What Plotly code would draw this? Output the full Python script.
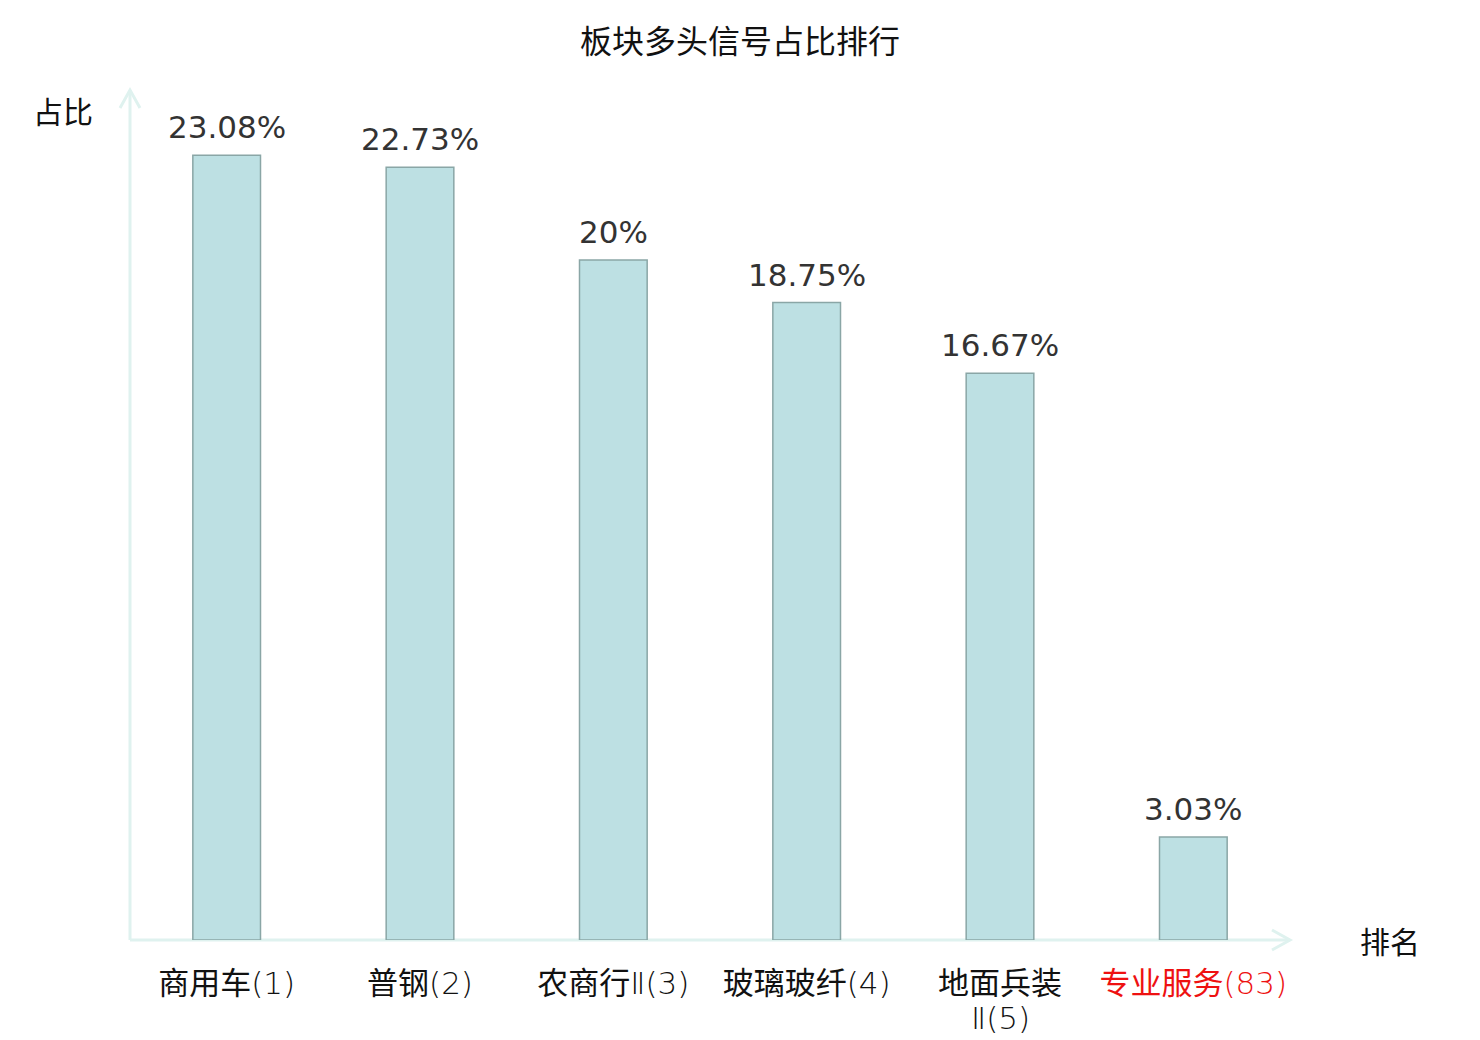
import plotly.graph_objects as go

categories = ["商用车", "普钢", "农商行", "玻璃玻纤", "地面兵装", "专业服务"]
suffixes = ["(1)", "(2)", "Ⅱ(3)", "(4)", "", "(83)"]
wrapped_suffix = {4: "Ⅱ(5)"}
values = [23.08, 22.73, 20.0, 18.75, 16.67, 3.03]
value_labels = ["23.08%", "22.73%", "20%", "18.75%", "16.67%", "3.03%"]
label_colors = ["#111111", "#111111", "#111111", "#111111", "#111111", "#ee1111"]
title_text = "板块多头信号占比排行"
y_name = "占比"
x_name = "排名"

light = "font-family:'DejaVu Sans';font-weight:200"
ticktext = [f'<span style="color:{c}">{t}<span style="{light}">{s}</span></span>'
            for t, s, c in zip(categories, suffixes, label_colors)]
xs = list(range(len(categories)))

axis_color = "#dff2ef"
cjk = "Noto Sans CJK SC"

W, H = 1480, 1040
ML, MR, MT, MB = 122, 198, 82, 108

fig = go.Figure()
fig.add_trace(go.Bar(
    x=xs, y=values, width=0.35,
    marker=dict(color="#bde0e3", line=dict(color="#8aa6a6", width=1.5)),
    hoverinfo="skip",
))

for xi, v, t in zip(xs, values, value_labels):
    fig.add_annotation(x=xi, y=v, text=t, showarrow=False, xanchor="center", yanchor="bottom",
                       yshift=8, font=dict(family="DejaVu Sans", size=31, color="#333333"))

for xi, s in wrapped_suffix.items():
    fig.add_annotation(x=xi, xref="x", y=0, yref="paper", text=s, showarrow=False,
                       xanchor="center", yanchor="middle", yshift=-78, height=30,
                       font=dict(family="DejaVu Sans", size=31, color=label_colors[xi], weight=200))

fig.update_layout(
    width=W, height=H,
    margin=dict(l=ML, r=MR, t=MT, b=MB, autoexpand=False),
    paper_bgcolor="white", plot_bgcolor="white",
    showlegend=False,
    title=dict(text=title_text, x=(740 - 8) / W, xanchor="center", y=1 - 34 / H, yanchor="middle",
               font=dict(family=cjk, size=32, color="#111111")),
    xaxis=dict(
        tickmode="array", tickvals=xs, ticktext=ticktext,
        range=[-0.5, len(categories) - 0.5],
        showgrid=False, zeroline=False, showline=False,
        ticks="", ticklabelstandoff=22, automargin=False,
        tickfont=dict(family=cjk, size=31, color="#111111"),
    ),
    yaxis=dict(
        range=[0, 25], showgrid=False, zeroline=False, showline=False,
        showticklabels=False, ticks="", automargin=False,
    ),
)

lw = 3
fig.add_shape(type="line", xref="paper", yref="paper", x0=0, y0=0, x1=1, y1=0,
              line=dict(color=axis_color, width=lw), layer="below")
fig.add_shape(type="line", xref="paper", yref="paper", x0=0, y0=0, x1=0, y1=1,
              line=dict(color=axis_color, width=lw), layer="below")
pw = W - ML - MR
ph = H - MT - MB
ax_len = 18
hw = 10
fig.add_shape(type="path", xref="paper", yref="paper",
              path=f"M {1 - ax_len / pw},{hw / ph} L 1,0 L {1 - ax_len / pw},{-hw / ph}",
              line=dict(color=axis_color, width=lw))
fig.add_shape(type="path", xref="paper", yref="paper",
              path=f"M {-hw / pw},{1 - ax_len / ph} L 0,1 L {hw / pw},{1 - ax_len / ph}",
              line=dict(color=axis_color, width=lw))

fig.add_annotation(text=y_name, xref="paper", yref="paper", x=-67 / pw, y=1 - 20 / ph,
                   xanchor="center", yanchor="middle", showarrow=False,
                   font=dict(family=cjk, size=30, color="#111111"))
fig.add_annotation(text=x_name, xref="paper", yref="paper", x=1 + 100 / pw, y=0,
                   xanchor="center", yanchor="middle", showarrow=False,
                   font=dict(family=cjk, size=30, color="#111111"))

fig.write_html("out.html")
